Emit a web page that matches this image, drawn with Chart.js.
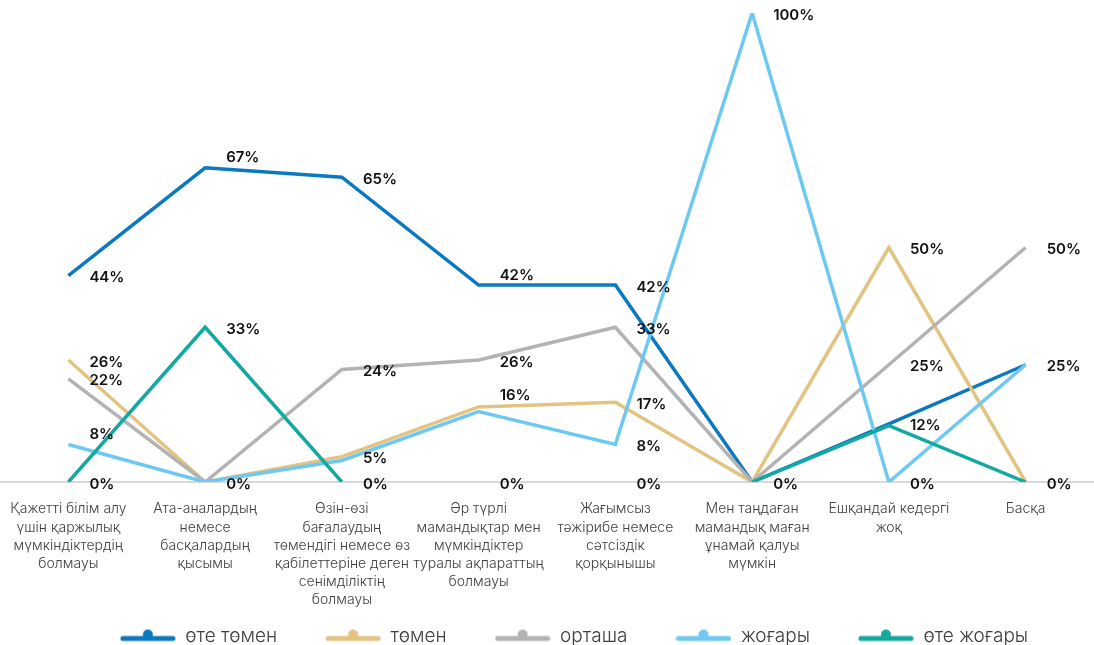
<!DOCTYPE html>
<html>
<head>
<meta charset="utf-8">
<script src="https://cdn.jsdelivr.net/npm/chart.js@4.4.1/dist/chart.umd.min.js"></script>
<style>
  html, body { margin: 0; padding: 0; background: #ffffff; }
  #wrap { width: 1094px; height: 645px; position: relative; }
</style>
</head>
<body>
<div id="wrap"><canvas id="c"></canvas></div>
<script>
// ---- data ----
const categories = [
  ["Қажетті білім алу", "үшін қаржылық", "мүмкіндіктердің", "болмауы"],
  ["Ата-аналардың", "немесе", "басқалардың", "қысымы"],
  ["Өзін-өзі", "бағалаудың", "төмендігі немесе өз", "қабілеттеріне деген", "сенімділіктің", "болмауы"],
  ["Әр түрлі", "мамандықтар мен", "мүмкіндіктер", "туралы ақпараттың", "болмауы"],
  ["Жағымсыз", "тәжірибе немесе", "сәтсіздік", "қорқынышы"],
  ["Мен таңдаған", "мамандық маған", "ұнамай қалуы", "мүмкін"],
  ["Ешқандай кедергі", "жоқ"],
  ["Басқа"]
];
const seriesNames = ["өте төмен", "төмен", "орташа", "жоғары", "өте жоғары"];
const veryLow  = [44, 67, 65, 42, 42, 0, 12.4, 25];
const low      = [26, 0, 5.4, 16, 17, 0, 50, 0];
const medium   = [22, 0, 24, 26, 33, 0, 25, 50];
const high     = [8, 0, 4.6, 15, 8, 100, 0, 25];
const veryHigh = [0, 33, 0, 0, 0, 0, 12, 0];
const yTicks = [0, 100];

const colors = ["#0b79bf", "#e2c382", "#b3b3b3", "#6dc9f1", "#13a8a0"];
const seriesValues = [veryLow, low, medium, high, veryHigh];
const hideZeroRuns = [false, false, false, false, true];

function segmentHidden(di, j) {
  const vals = seriesValues[di];
  return hideZeroRuns[di] && vals[j] === 0 && vals[j + 1] === 0;
}

function legendSymbol(color) {
  const c = document.createElement('canvas');
  c.width = 56; c.height = 18;
  const g = c.getContext('2d');
  g.strokeStyle = color; g.fillStyle = color;
  g.lineWidth = 5; g.lineCap = 'round';
  g.beginPath(); g.moveTo(3, 11); g.lineTo(53, 11); g.stroke();
  g.beginPath(); g.arc(28, 7, 5, 0, Math.PI * 2); g.fill();
  return c;
}

const datasets = seriesValues.map((vals, i) => ({
  label: seriesNames[i],
  data: vals,
  borderColor: colors[i],
  backgroundColor: colors[i],
  borderWidth: 3.5,
  pointRadius: 0,
  pointHoverRadius: 0,
  pointStyle: legendSymbol(colors[i]),
  tension: 0,
  fill: false,
  order: 10 - i,
  borderJoinStyle: 'miter',
  segment: {
    borderColor: ctx => segmentHidden(i, ctx.p0DataIndex) ? 'rgba(0,0,0,0)' : undefined
  }
}));

const labelPlugin = {
  id: 'pointLabels',
  afterLayout(chart) {
    // let the multi-line category labels run below the axis box
    chart.scales.x.bottom = chart.height;
    // shift the legend a little to the right, like the original
    if (chart.legend) { chart.legend.left += 27; chart.legend.right += 27; }
  },
  afterDatasetsDraw(chart) {
    const ctx = chart.ctx;
    ctx.save();
    ctx.font = '600 15px Inter, "DejaVu Sans", sans-serif';
    ctx.fillStyle = '#111111';
    ctx.textAlign = 'left';
    ctx.textBaseline = 'middle';
    const placed = {};
    chart.data.datasets.forEach((ds, di) => {
      const meta = chart.getDatasetMeta(di);
      meta.data.forEach((pt, j) => {
        const v = ds.data[j];
        if (v === null || v === undefined) return;
        const text = Math.round(v) + '%';
        const w = ctx.measureText(text).width;
        const lx = pt.x + 21;
        let ly = pt.y + 2;
        const nxt = meta.data[j + 1];
        if (nxt && !segmentHidden(di, j)) {
          const slope = (nxt.y - pt.y) / (nxt.x - pt.x);
          const y1 = pt.y + slope * (lx - pt.x);
          const y2 = pt.y + slope * (lx + w - pt.x);
          const lo = Math.min(y1, y2), hi = Math.max(y1, y2);
          if (slope >= -0.05 && hi >= ly - 7 && lo <= ly + 7) {
            ly = Math.min(pt.y, lo) - 10;
          }
        }
        placed[j] = placed[j] || [];
        if (placed[j].some(py => Math.abs(py - ly) < 12)) return;
        placed[j].push(ly);
        ctx.fillText(text, lx, ly);
      });
    });
    ctx.restore();
  }
};

new Chart(document.getElementById('c'), {
  type: 'line',
  data: { labels: categories, datasets },
  options: {
    responsive: true,
    maintainAspectRatio: false,
    animation: false,
    layout: { padding: { top: 13, left: 0, right: 0, bottom: 0 } },
    interaction: { mode: null },
    plugins: {
      tooltip: { enabled: false },
      legend: {
        position: 'bottom',
        maxHeight: 66,
        labels: {
          usePointStyle: true,
          pointStyleWidth: 56,
          boxHeight: 14,
          padding: 48,
          color: '#404040',
          font: { family: 'Inter, "Open Sans", sans-serif', size: 19, weight: '300' },
          sort: (a, b) => a.datasetIndex - b.datasetIndex
        }
      }
    },
    scales: {
      x: {
        offset: true,
        grid: { display: false, drawTicks: true, tickLength: 15 },
        border: { display: true, color: '#d9d9d9', width: 2 },
        ticks: {
          autoSkip: false,
          maxRotation: 0,
          minRotation: 0,
          padding: 3,
          color: '#404040',
          font: { family: 'Inter, "Open Sans", sans-serif', size: 14, weight: '300', lineHeight: 1.3 }
        },
        afterFit: (scale) => { scale.height = 97; }
      },
      y: {
        display: false,
        min: yTicks[0],
        max: yTicks[1]
      }
    }
  },
  plugins: [labelPlugin]
});
</script>
</body>
</html>
